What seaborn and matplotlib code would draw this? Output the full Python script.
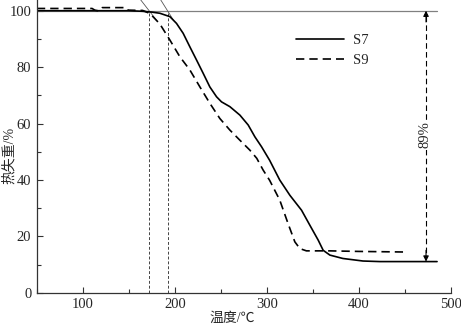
import numpy as np
import pandas as pd
import matplotlib
matplotlib.use("Agg")
import matplotlib.pyplot as plt
import seaborn as sns
from matplotlib.ticker import MultipleLocator

# ---- data ----
s7_temp = [50, 100, 150, 165, 175, 183.7, 194.6, 201.8, 209, 216.3, 223.6, 230.8, 238,
           245.3, 250.7, 259.8, 270.7, 279.7, 287, 294.2, 303, 314, 325, 337.7, 346.7,
           355.8, 361.2, 368.5, 382.6, 404.5, 423, 485]
s7_mass = [100, 100, 100, 99.8, 99.5, 99.1, 97.9, 95.5, 92, 87.2, 82.5, 77.8, 73,
           69.5, 67.7, 66, 63, 59.5, 55.3, 51.8, 47, 40, 34.6, 29.3, 24,
           18.7, 15.1, 13.4, 12.2, 11.3, 11.1, 11.1]

s9_temp = [50, 110, 113, 116, 119, 121, 147, 149, 165, 173, 183.7, 194.6, 205.4, 216.3,
           227.2, 238, 248.9, 259.8, 270.7, 281.5, 289, 296, 303, 314, 323, 330.4,
           335.9, 343, 368, 400, 448]
s9_mass = [100.8, 100.8, 100.2, 100.0, 100.3, 101.1, 101.1, 100.2, 100.1, 99, 95.3,
           89.6, 83.7, 79, 73, 67.2, 61.8, 57.7, 54.1, 50.6, 47.7, 43.5, 39.9, 32.9,
           24.6, 18.1, 15.7, 14.9, 14.9, 14.7, 14.5]

series_names = ["S7", "S9"]
onset_temps = [172, 192]
tangent_slopes = [-0.42, -0.52]
loss_label = "89%"
loss_top = 100
loss_bottom = 11.1
loss_x = 473
ref_line_end = 485

x_ticks = [100, 200, 300, 400, 500]
y_ticks = [0, 20, 40, 60, 80, 100]
xlabel = "温度/℃"
ylabel = "热失重/%"

# ---- style ----
sns.set_style("ticks")
plt.rcParams['font.family'] = ['Liberation Serif', 'Noto Sans CJK SC', 'DejaVu Sans']
plt.rcParams['axes.unicode_minus'] = False

fig = plt.figure(figsize=(4.61, 3.28), dpi=100)
ax = fig.add_axes([0.080, 0.107, 0.898, 0.893])

df = pd.concat([
    pd.DataFrame({"temp": s7_temp, "mass": s7_mass, "sample": series_names[0]}),
    pd.DataFrame({"temp": s9_temp, "mass": s9_mass, "sample": series_names[1]}),
])

sns.lineplot(data=df[df["sample"] == "S7"], x="temp", y="mass", color="black",
             lw=1.2, ax=ax, label="S7", sort=False)
sns.lineplot(data=df[df["sample"] == "S9"], x="temp", y="mass", color="black",
             lw=1.2, ax=ax, label="S9", sort=False)
ax.lines[0].set_solid_joinstyle("round")
ax.lines[1].set_dashes([5, 3])

# reference 100% line
ax.plot([50, ref_line_end], [100, 100], color="#808080", lw=0.9, zorder=1)

# onset dotted lines and tangents
for t, s in zip(onset_temps, tangent_slopes):
    ax.plot([t, t], [0, 100], color="#444444", lw=0.7, ls=(0, (3, 2)), zorder=1)
    xs = np.array([t + (104 - 100) / s, t + (96.5 - 100) / s])
    ax.plot(xs, 100 + s * (xs - t), color="#555555", lw=0.6, zorder=1)

# loss arrow
ax.plot([loss_x, loss_x], [loss_top - 2, loss_bottom + 2], color="black", lw=0.8,
        ls=(0, (5, 3)))
ax.annotate("", xy=(loss_x, loss_top), xytext=(loss_x, loss_top - 4),
            arrowprops=dict(arrowstyle="-|>", color="black", lw=0.8,
                            mutation_scale=8, shrinkA=0, shrinkB=0))
ax.annotate("", xy=(loss_x, loss_bottom), xytext=(loss_x, loss_bottom + 4),
            arrowprops=dict(arrowstyle="-|>", color="black", lw=0.8,
                            mutation_scale=8, shrinkA=0, shrinkB=0))
ax.text(loss_x - 1.5, 56, loss_label, rotation=90, ha="center", va="center", fontsize=10.5,
        bbox=dict(facecolor="white", edgecolor="none", pad=1.0), zorder=5)

ax.set_xlim(50, 500)
ax.set_ylim(0, 103.8)
ax.set_xticks(x_ticks)
ax.set_yticks(y_ticks)
ax.xaxis.set_minor_locator(MultipleLocator(50))
ax.yaxis.set_minor_locator(MultipleLocator(10))
ax.tick_params(which="both", direction="in", labelsize=10.5, width=0.8, color="#333333")
ax.tick_params(which="major", length=4.5, pad=4)
ax.tick_params(which="minor", length=3)
sns.despine(ax=ax)
for sp in ["left", "bottom"]:
    ax.spines[sp].set_linewidth(0.9)
    ax.spines[sp].set_color("#333333")

ax.set_xlabel(xlabel, fontsize=10)
ax.set_ylabel(ylabel, fontsize=10)
ax.xaxis.set_label_coords(0.471, -0.065)
ax.xaxis.label.set_va("top")
ax.yaxis.set_label_coords(-0.068, 0.47)
ax.yaxis.label.set_va("center")

leg = ax.legend(loc="upper left", bbox_to_anchor=(0.595, 0.93), frameon=False,
                fontsize=10.5, handlelength=3.3, handletextpad=0.6, labelspacing=0.5)

fig.savefig("out.png", dpi=100)
